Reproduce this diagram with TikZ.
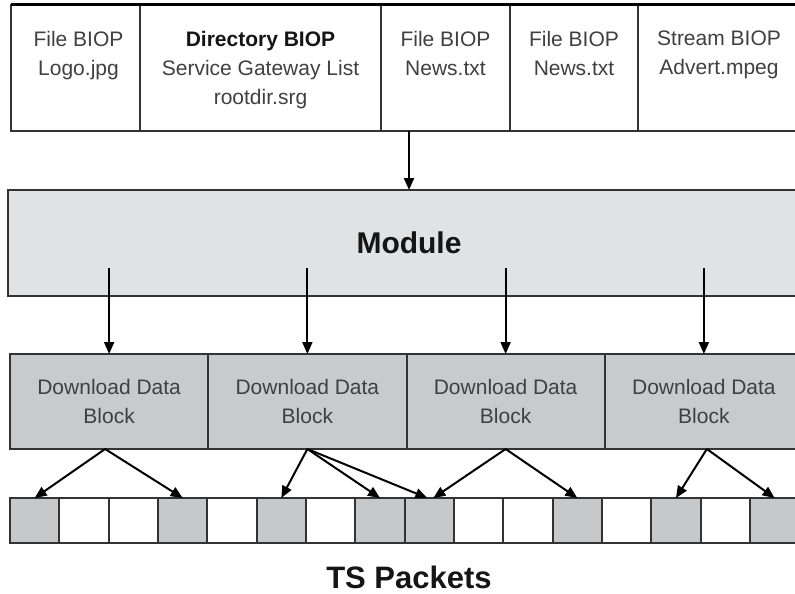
\documentclass[tikz,border=0pt]{standalone}
\usepackage{fontspec}
\setmainfont{Liberation Sans}
\usetikzlibrary{arrows.meta}
\definecolor{linec}{HTML}{333333}
\definecolor{modfill}{HTML}{E1E2E4}
\definecolor{blkfill}{HTML}{C9CACC}
\definecolor{pktfill}{HTML}{C7C8CA}
\definecolor{txtc}{HTML}{404040}
\definecolor{darktxt}{HTML}{151515}
\begin{document}
\begin{tikzpicture}[x=1pt,y=-1pt,
  box/.style={draw=linec, line width=2pt, inner sep=0pt, outer sep=0pt},
  topbox/.style={box, fill=white, minimum height=126pt},
  blk/.style={box, fill=blkfill, minimum width=198.25pt, minimum height=95pt, align=center, text=txtc, font=\fontsize{21}{29}\selectfont},
  pkt/.style={box, minimum width=49.333pt, minimum height=45pt},
  toptext/.style={align=center, text=txtc, font=\fontsize{21}{29}\selectfont, anchor=north, inner sep=0pt},
  arr/.style={line width=2pt, -{Triangle[length=12pt,width=10pt]}},
]
\useasboundingbox (0,0) rectangle (795,594);
\clip (0,0) rectangle (795,594);

% top row of BIOPs
\node[topbox, minimum width=129pt] (t1) at (75.5,68) {};
\node[topbox, minimum width=241pt] (t2) at (260.5,68) {};
\node[topbox, minimum width=129pt] (t3) at (445.5,68) {};
\node[topbox, minimum width=128pt] (t4) at (574,68) {};
\node[topbox, minimum width=162pt] (t5) at (719,68) {};
\draw[line width=3pt, black] (t1.north west) -- (t5.north east);

\node[toptext] (l1) at ([xshift=3pt,yshift=-26pt]t1.north) {File BIOP\\Logo.jpg};
\node[toptext] (l2) at ([yshift=-26pt]t2.north) {{\bfseries\color{darktxt}Directory BIOP}\\Service Gateway List\\rootdir.srg};
\node[toptext] (l3) at ([yshift=-26pt]t3.north) {File BIOP\\News.txt};
\node[toptext] (l4) at ([yshift=-26pt]t4.north) {File BIOP\\News.txt};
\node[toptext] (l5) at ([yshift=-26pt]t5.north) {Stream BIOP\\Advert.mpeg};

% module
\node[box, fill=modfill, minimum width=802pt, minimum height=106pt, text=darktxt, font=\bfseries\fontsize{30}{36}\selectfont] (mod) at (409,243) {Module};
\draw[arr] (t3.south -| mod.north) -- (mod.north);

% download data blocks
\node[blk] (b1) at (109.125,401.5) {Download Data\\Block};
\node[blk] (b2) at (307.375,401.5) {Download Data\\Block};
\node[blk] (b3) at (505.625,401.5) {Download Data\\Block};
\node[blk] (b4) at (703.875,401.5) {Download Data\\Block};

\coordinate (mline) at ([yshift=28pt]mod.south);
\foreach \b in {b1,b2,b3,b4}
  \draw[arr] (mline -| \b.north) -- (\b.north);

% TS packets
\foreach \f [count=\i from 0] in {pktfill,white,white,pktfill,white,pktfill,white,pktfill,pktfill,white,white,pktfill,white,pktfill,white,pktfill}
  \node[pkt, fill=\f] (p\i) at ({10+49.333*(\i+0.5)},520.5) {};

\draw[arr] ([xshift=-4pt]b1.south) -- (p0.north);
\draw[arr] ([xshift=-4pt]b1.south) -- (p3.north);
\draw[arr] (b2.south) -- (p5.north);
\draw[arr] (b2.south) -- (p7.north);
\draw[arr] (b2.south) -- ([xshift=-2pt]p8.north);
\draw[arr] (b3.south) -- ([xshift=4pt]p8.north);
\draw[arr] (b3.south) -- (p11.north);
\draw[arr] ([xshift=3pt]b4.south) -- (p13.north);
\draw[arr] ([xshift=3pt]b4.south) -- (p15.north);

\node[font=\bfseries\fontsize{31}{36}\selectfont, text=darktxt] (ts) at (409,577) {TS Packets};
\end{tikzpicture}
\end{document}
